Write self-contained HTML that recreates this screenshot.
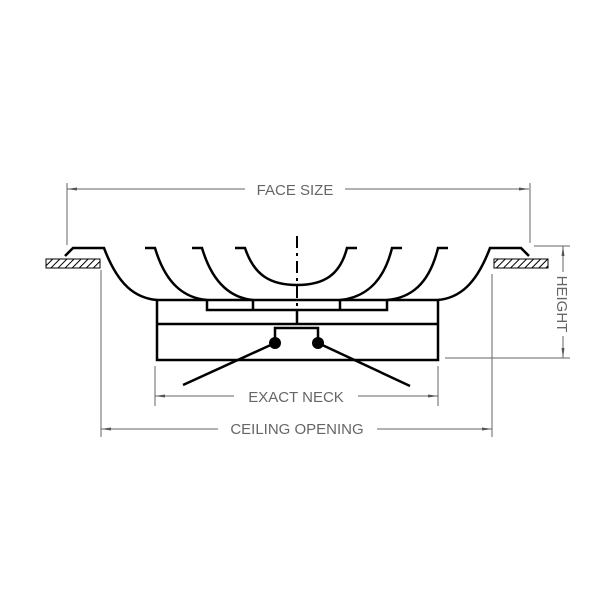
<!DOCTYPE html>
<html><head><meta charset="utf-8"><style>html,body{margin:0;padding:0;background:#fff}svg{display:block}</style></head>
<body>
<svg width="600" height="600" viewBox="0 0 600 600" xmlns="http://www.w3.org/2000/svg">
<defs>
<pattern id="h" width="5" height="5" patternUnits="userSpaceOnUse" patternTransform="rotate(45)">
<rect width="5" height="5" fill="#fff"/><line x1="0" y1="0" x2="0" y2="5" stroke="#000" stroke-width="2"/>
</pattern>
<marker id="a" markerWidth="10" markerHeight="6" refX="10" refY="3" orient="auto-start-reverse" markerUnits="userSpaceOnUse">
<path d="M0,1.5 L10,3 L0,4.5 Z" fill="#555"/></marker>
</defs>
<g stroke="#666" stroke-width="1" fill="none">
<line x1="67" y1="183" x2="67" y2="245"/><line x1="530" y1="183" x2="530" y2="243"/>
<line x1="67" y1="189" x2="245" y2="189" marker-start="url(#a)"/>
<line x1="345" y1="189" x2="529" y2="189" marker-end="url(#a)"/>
<line x1="534" y1="246" x2="570" y2="246"/><line x1="445" y1="358" x2="570" y2="358"/>
<line x1="563" y1="246" x2="563" y2="272" marker-start="url(#a)"/>
<line x1="563" y1="336" x2="563" y2="358" marker-end="url(#a)"/>
<line x1="155" y1="366" x2="155" y2="406"/><line x1="438" y1="366" x2="438" y2="406"/>
<line x1="155" y1="396" x2="234" y2="396" marker-start="url(#a)"/>
<line x1="358" y1="396" x2="438" y2="396" marker-end="url(#a)"/>
<line x1="101" y1="270" x2="101" y2="437"/><line x1="492" y1="274" x2="492" y2="437"/>
<line x1="101" y1="429" x2="218" y2="429" marker-start="url(#a)"/>
<line x1="377" y1="429" x2="492" y2="429" marker-end="url(#a)"/>
</g>
<g font-family="Liberation Sans, sans-serif" font-size="15" fill="#666" text-anchor="middle">
<text x="295" y="195">FACE SIZE</text>
<text x="296" y="402">EXACT NECK</text>
<text x="297" y="434">CEILING OPENING</text>
<text x="0" y="0" transform="translate(557,304) rotate(90)">HEIGHT</text>
</g>
<rect x="46" y="259" width="54" height="9" fill="url(#h)" stroke="#000" stroke-width="1"/>
<rect x="494" y="259" width="54" height="9" fill="url(#h)" stroke="#000" stroke-width="1"/>
<g stroke="#000" stroke-width="2.5" fill="none" stroke-linejoin="miter">
<line x1="297" y1="236" x2="297" y2="306" stroke-width="2" stroke-dasharray="12,5,3,5"/>
<line x1="297" y1="310" x2="297" y2="324"/>
<path d="M65,256 L73,248 L104,248 C118,285 135,298 157,300"/>
<path d="M529,256 L521,248 L490,248 C476,285 459,298 438,300"/>
<path d="M145,248 L155,248 C166,285 185,298 207,300"/>
<path d="M192,248 L202,248 C213,285 232,298 253,300"/>
<path d="M235,248 L245,248 C254,275 270,285 297,285 C324,285 340,275 347,248 L357,248"/>
<path d="M402,248 L392,248 C383,285 362,298 340,300"/>
<path d="M448,248 L438,248 C429,285 410,298 387,300"/>
<rect x="157" y="300" width="281" height="60"/>
<line x1="157" y1="324" x2="438" y2="324"/>
<path d="M207,300 L207,310 L387,310 L387,300"/>
<line x1="253" y1="300" x2="253" y2="310"/>
<line x1="340" y1="300" x2="340" y2="310"/>
<path d="M275,343 L275,328 L318,328 L318,343"/>
<line x1="275" y1="343" x2="183" y2="385"/>
<line x1="318" y1="343" x2="410" y2="386"/>
</g>
<circle cx="275" cy="343" r="6" fill="#000"/>
<circle cx="318" cy="343" r="6" fill="#000"/>
</svg>
</body></html>
